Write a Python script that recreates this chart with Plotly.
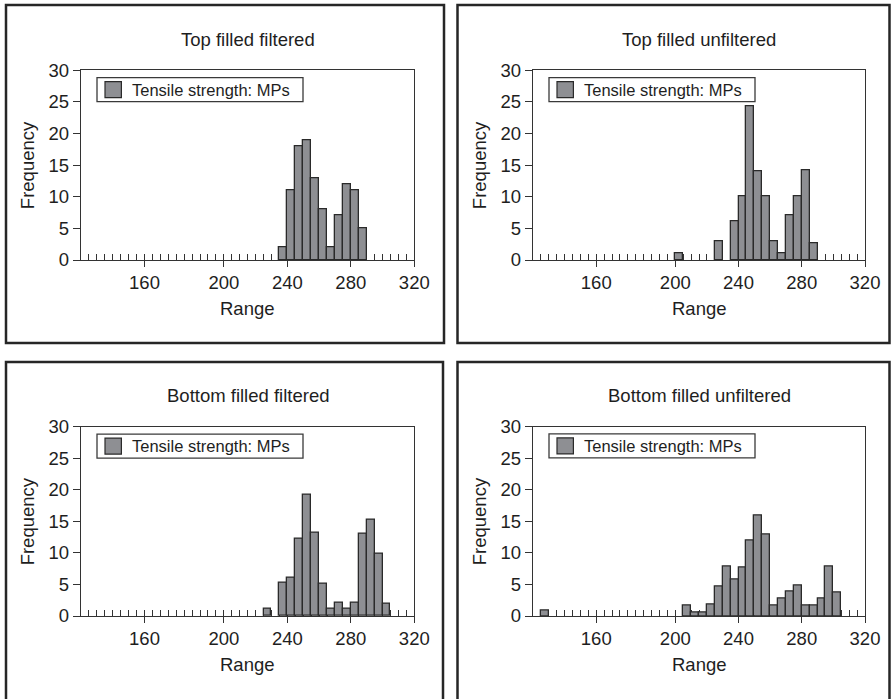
import plotly.graph_objects as go

W, H = 891, 699

# ---------------- data ----------------
titles = ["Top filled filtered", "Top filled unfiltered",
          "Bottom filled filtered", "Bottom filled unfiltered"]
series_name = "Tensile strength: MPs"
x_title = "Range"
y_title = "Frequency"

# histogram bins are indexed along the category axis (0..42)
x_tick_labels = ["160", "200", "240", "280", "320"]
x_tick_bins = [8, 18, 26, 34, 42]
n_bins = 42

tff_bins = [25, 26, 27, 28, 29, 30, 31, 32, 33, 34, 35]
tff_freq = [2, 11, 18, 19, 13, 8, 2, 7, 12, 11, 5]

tfu_bins = [18, 23, 25, 26, 27, 28, 29, 30, 31, 32, 33, 34, 35]
tfu_freq = [1, 3, 6.2, 10, 24.3, 14.1, 10, 3, 1, 7, 10, 14.2, 2.7]

bff_bins = [23, 25, 26, 27, 28, 29, 30, 31, 32, 33, 34, 35, 36, 37, 38]
bff_freq = [1.1, 5.2, 6.0, 12.2, 19.2, 13.2, 5.1, 1.1, 2.1, 1.1, 2.1, 13.1, 15.3, 9.9, 2.0]

bfu_bins = [1, 19, 20, 21, 22, 23, 24, 25, 26, 27, 28, 29, 30, 31, 32, 33, 34, 35, 36, 37, 38]
bfu_freq = [0.8, 1.7, 0.5, 0.5, 1.8, 4.7, 7.8, 5.8, 7.75, 11.9, 15.9, 12.9, 1.7, 2.8,
            3.95, 4.8, 1.6, 1.6, 2.7, 7.85, 3.7]

series = [(tff_bins, tff_freq), (tfu_bins, tfu_freq),
          (bff_bins, bff_freq), (bfu_bins, bfu_freq)]

# ---------------- style / layout ----------------
FONT = "Liberation Sans, Arial, Helvetica, sans-serif"
TXT = "#1e1e1e"
BAR = "#8e8f93"
EDGE = "#2a2a2a"
AX = "#333333"

panels = [
    dict(x0=81, x1=414.3, y0=70.3, y1=260, frame=(6, 5, 444, 343)),
    dict(x0=533, x1=865, y0=70.3, y1=260, frame=(457.5, 5, 889.5, 343)),
    dict(x0=81, x1=414.3, y0=426.7, y1=616, frame=(6, 362, 443, 730)),
    dict(x0=533, x1=865, y0=426.5, y1=616, frame=(457.5, 362, 889.5, 730)),
]


def px(x):
    return x / W


def py(y):
    return 1 - y / H


fig = go.Figure()
layout = dict(width=W, height=H,
              margin=dict(l=0, r=0, t=0, b=0, pad=0, autoexpand=False),
              paper_bgcolor="white", plot_bgcolor="white",
              showlegend=False, bargap=0,
              font=dict(family=FONT, size=18.5, color=TXT))
shapes = []
annotations = []

for i, (p, (bins, freq)) in enumerate(zip(panels, series)):
    k = i + 1
    sx = "" if k == 1 else str(k)
    ov = str(k + 4)
    xdom = [px(p["x0"]), px(p["x1"])]
    ydom = [py(p["y1"]), py(p["y0"])]

    fig.add_trace(go.Bar(
        x=[b + 0.5 for b in bins], y=freq, width=1, name=series_name,
        marker=dict(color=BAR, line=dict(color=EDGE, width=1.3)),
        xaxis="x" + sx, yaxis="y" + sx, showlegend=False))
    # empty trace to hold the labelled overlay axis
    fig.add_trace(go.Scatter(x=[None], y=[None], xaxis="x" + ov, yaxis="y" + sx,
                             showlegend=False, hoverinfo="skip"))

    layout["xaxis" + sx] = dict(
        domain=xdom, range=[0, n_bins], anchor="y" + sx, automargin=False,
        tickmode="linear", tick0=0, dtick=1, ticks="inside", ticklen=6,
        tickwidth=1, tickcolor=AX, showticklabels=False,
        showline=True, linecolor=AX, linewidth=1.3, mirror=True,
        showgrid=False, zeroline=False, layer="below traces", fixedrange=True)
    layout["xaxis" + ov] = dict(
        domain=xdom, range=[0, n_bins], anchor="y" + sx, overlaying="x" + sx,
        automargin=False,
        side="bottom", tickmode="array", tickvals=x_tick_bins, ticktext=x_tick_labels,
        ticks="outside", ticklen=6, tickwidth=1.2, tickcolor=AX,
        showline=False, showgrid=False, zeroline=False,
        tickfont=dict(family=FONT, size=18.5, color=TXT))
    layout["yaxis" + sx] = dict(
        domain=ydom, range=[0, 30], anchor="x" + sx, automargin=False,
        tickmode="linear", tick0=0, dtick=5, ticks="outside", ticklen=7,
        tickwidth=1.2, tickcolor=AX, showline=True, linecolor=AX, linewidth=1.3,
        mirror=True, showgrid=False, zeroline=False, layer="below traces",
        tickfont=dict(family=FONT, size=18.5, color=TXT))

    # panel frame
    fx0, fy0, fx1, fy1 = p["frame"]
    shapes.append(dict(type="rect", xref="paper", yref="paper",
                       x0=px(fx0), x1=px(fx1), y0=py(fy1), y1=py(fy0),
                       line=dict(color="#262626", width=2.5)))

    cx = (p["x0"] + p["x1"]) / 2
    annotations.append(dict(text=titles[i], xref="paper", yref="paper",
                            x=px(cx), y=py(p["y0"] - 30.8), xanchor="center",
                            yanchor="middle", showarrow=False,
                            font=dict(size=18.5)))
    annotations.append(dict(text=x_title, xref="paper", yref="paper",
                            x=px(cx), y=py(p["y1"] + 48.8), xanchor="center",
                            yanchor="middle", showarrow=False,
                            font=dict(size=18.5)))
    annotations.append(dict(text=y_title, xref="paper", yref="paper",
                            x=px(p["x0"] - 54), y=py((p["y0"] + p["y1"]) / 2),
                            xanchor="center", yanchor="middle", textangle=-90,
                            showarrow=False, font=dict(size=18.5)))

    # legend box
    lx0 = p["x0"] + 16
    ly0 = p["y0"] + 7.4
    shapes.append(dict(type="rect", xref="paper", yref="paper",
                       x0=px(lx0), x1=px(lx0 + 206), y0=py(ly0 + 24), y1=py(ly0),
                       line=dict(color="#3a3a3a", width=1.3), fillcolor="white"))
    shapes.append(dict(type="rect", xref="paper", yref="paper",
                       x0=px(lx0 + 8), x1=px(lx0 + 24.4), y0=py(ly0 + 20), y1=py(ly0 + 4),
                       line=dict(color=EDGE, width=1.2), fillcolor=BAR))
    annotations.append(dict(text=series_name, xref="paper", yref="paper",
                            x=px(lx0 + 32.5), y=py(ly0 + 12.2), xanchor="left",
                            yanchor="middle", showarrow=False,
                            font=dict(size=16.5)))

layout["shapes"] = shapes
layout["annotations"] = annotations
fig.update_layout(**layout)
fig.write_html("out.html")
